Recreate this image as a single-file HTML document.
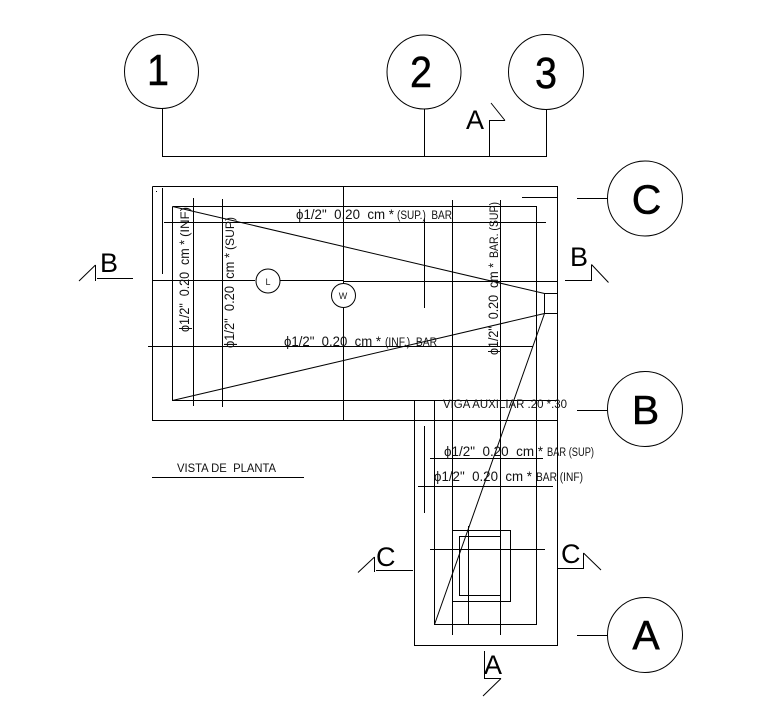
<!DOCTYPE html>
<html>
<head>
<meta charset="utf-8">
<style>
html,body{margin:0;padding:0;background:#fff;width:770px;height:719px;overflow:hidden}
svg{display:block}
text{font-family:"Liberation Sans",sans-serif;fill:#000}
.n{font-size:44px;text-anchor:middle;stroke:#000;stroke-width:.5}
.l{font-size:41px;text-anchor:middle;stroke:#000;stroke-width:.5}
.s{font-size:27px}
.t{font-size:13.5px;fill:#111}
.u{font-size:11.5px;fill:#111}
</style>
</head>
<body>
<svg width="770" height="719" viewBox="0 0 770 719" xmlns="http://www.w3.org/2000/svg">
<g stroke="#000" stroke-width="1" fill="none">
<!-- grid bubbles -->
<circle cx="161.5" cy="71.5" r="37"/>
<circle cx="424" cy="72" r="37"/>
<circle cx="546" cy="72" r="37.5"/>
<circle cx="645" cy="198.5" r="37.5"/>
<circle cx="645" cy="409" r="37.5"/>
<circle cx="645" cy="635" r="37.5"/>
<g shape-rendering="crispEdges">
<path d="M162.5 108V156.5H546.5V109M424.5 109V156M489.5 156V120.5H505"/>
<path d="M577 198.5H607M577 410.5H607M577 635.5H607"/>
<!-- outer -->
<path d="M152.5 186.5H557.5V645.5H414.5V400.5M152.5 186.5V420.5H557"/>
<path d="M172.5 206.5H536.5V624.5H434.5V400.5M172.5 206.5V400.5H557"/>
<path d="M522 197.5H557"/>
<path d="M544.5 293.5H557M544.5 293.5V313.5M544.5 313.5H557"/>
<path d="M164 222.5H546M152 280.5H255M280 280.5H343M343 281.5H557M148 346.5H533"/>
<path d="M193.5 198V406M222.5 199V407M343.5 186V283M343.5 308V420M452.5 200V635M500.5 200V635M424.5 218V308M162.5 188V274M424.5 426V513M468.5 526V624"/>
<path d="M430 458.5H543M418 486.5H553M430 549.5H545"/>
<rect x="452.5" y="530.5" width="58" height="71"/>
<rect x="459.5" y="536.5" width="41" height="59"/>
<path d="M152 477.5H304"/>
<!-- section marks -->
<path d="M97 278.5H133M95.5 265V281"/>
<path d="M565 280.5H591.5V264.5"/>
<path d="M376 570.5H413M374.5 557V572"/>
<path d="M558 568.5H583.5V553"/>
<path d="M484.5 651V678.5H501"/>
</g>
<circle cx="268" cy="281" r="12" fill="#fff"/>
<circle cx="343.5" cy="295.5" r="12" fill="#fff"/>
<path d="M172.5 206.5L544.5 293.5M172.5 400.5L544.5 313.5M544.5 313.5L434.5 624.5"/>
<path d="M505 120.5L491 103M95.5 265L79 281M591.5 264.5L608.5 282.5M374.5 557L358 572.5M583.5 553L601 570M501 678.5L483 696"/>
<rect x="156" y="191" width="1" height="1" fill="#000" stroke="none"/>
</g>
<!-- numbers -->
<text class="n" x="158" y="85" textLength="22" lengthAdjust="spacingAndGlyphs">1</text>
<text class="n" x="421" y="87" textLength="22" lengthAdjust="spacingAndGlyphs">2</text>
<text class="n" x="546" y="88" textLength="22" lengthAdjust="spacingAndGlyphs">3</text>
<text class="l" x="646.5" y="213.5">C</text>
<text class="l" x="645.5" y="424">B</text>
<text class="l" x="646" y="649">A</text>
<!-- section letters -->
<text class="s" x="466" y="129">A</text>
<text class="s" x="100" y="272">B</text>
<text class="s" x="570" y="266">B</text>
<text class="s" x="376" y="566">C</text>
<text class="s" x="561" y="563">C</text>
<text class="s" x="484" y="674">A</text>
<!-- labels -->
<text class="t" x="296" y="219" textLength="98" lengthAdjust="spacingAndGlyphs" xml:space="preserve">ϕ1/2"  0.20  cm *</text>
<text class="u" x="397" y="219" textLength="55" lengthAdjust="spacingAndGlyphs" xml:space="preserve">(SUP.)  BAR</text>
<text class="t" x="284" y="346" textLength="97" lengthAdjust="spacingAndGlyphs" xml:space="preserve">ϕ1/2"  0.20  cm *</text>
<text class="u" x="385" y="346" textLength="52" lengthAdjust="spacingAndGlyphs" xml:space="preserve">(INF.)  BAR</text>
<text class="t" transform="translate(189,332) rotate(-90)" textLength="92" lengthAdjust="spacingAndGlyphs" xml:space="preserve">ϕ1/2"  0.20  cm *</text>
<text class="u" transform="translate(189,237) rotate(-90)" textLength="30" lengthAdjust="spacingAndGlyphs">(INF)</text>
<text class="t" transform="translate(234,348) rotate(-90)" textLength="95" lengthAdjust="spacingAndGlyphs" xml:space="preserve">ϕ1/2"  0.20  cm *</text>
<text class="u" transform="translate(234,250) rotate(-90)" textLength="33" lengthAdjust="spacingAndGlyphs">(SUP)</text>
<text class="t" transform="translate(498,355) rotate(-90)" textLength="92" lengthAdjust="spacingAndGlyphs" xml:space="preserve">ϕ1/2"  0.20  cm *</text>
<text class="u" transform="translate(498,258) rotate(-90)" textLength="56" lengthAdjust="spacingAndGlyphs">BAR. (SUP)</text>
<text class="u" x="443" y="408" textLength="124" lengthAdjust="spacingAndGlyphs">VIGA AUXILIAR .20 *.30</text>
<text class="t" x="444" y="456" textLength="99" lengthAdjust="spacingAndGlyphs" xml:space="preserve">ϕ1/2"  0.20  cm *</text>
<text class="u" x="547" y="456" textLength="47" lengthAdjust="spacingAndGlyphs">BAR (SUP)</text>
<text class="t" x="434" y="481" textLength="98" lengthAdjust="spacingAndGlyphs" xml:space="preserve">ϕ1/2"  0.20  cm *</text>
<text class="u" x="536" y="481" textLength="47" lengthAdjust="spacingAndGlyphs">BAR (INF)</text>
<text class="u" x="177" y="472" textLength="99" lengthAdjust="spacingAndGlyphs" xml:space="preserve">VISTA DE  PLANTA</text>
<text x="268" y="285" font-size="9" text-anchor="middle" style="fill:#222">L</text>
<text x="343" y="299" font-size="9" text-anchor="middle" style="fill:#222">W</text>
</svg>
</body>
</html>
